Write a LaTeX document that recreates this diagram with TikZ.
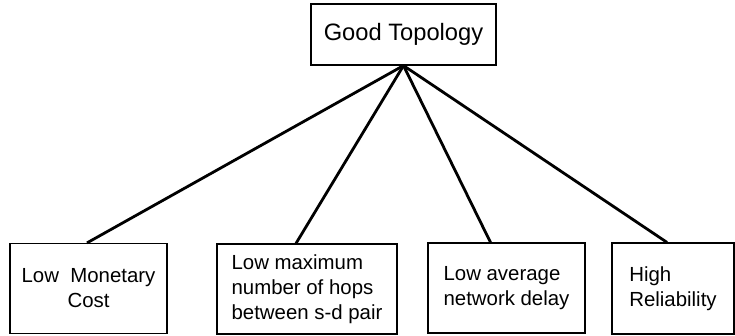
\documentclass[tikz,border=0pt]{standalone}
\usepackage{fontspec}
\setmainfont{Liberation Sans}
\usepackage{xcolor}
\usepackage{tikz}

\begin{document}
\begin{tikzpicture}[x = 1pt, y = -1pt]
            \tikzstyle{goal} = [draw=black, line width = 1.2pt, rectangle, inner sep = 0pt, font = \fontsize{23.7}{28}\selectfont];
            \tikzstyle{crit} = [draw=black, line width = 1.2pt, rectangle, inner sep = 0pt, minimum height = 90pt, font = \fontsize{20.4}{25}\selectfont];
            \tikzstyle{link} = [line width = 2.8pt];
            \useasboundingbox (0, 0) rectangle (735, 336);

            \node [goal, minimum width = 185pt, minimum height = 61pt] (G) at (403.5, 34.5) {Good Topology};

            \node [crit, minimum width = 157pt, align = center] (C1) at (88.5, 288.5) {Low~~Monetary\\Cost};
            \node [crit, minimum width = 180pt, align = left] (C2) at (307, 289) {Low maximum\\number of hops\\between s-d pair};
            \node [crit, minimum width = 157pt, align = left] (C3) at (506.5, 288) {Low average\\network delay};
            \node [crit, minimum width = 122pt, minimum height = 91pt, align = left] (C4) at (673, 288.5) {High\\Reliability};


            \draw [link] (G.south) to ([xshift = -1.5pt]C1.north);
            \draw [link] (G.south) to ([xshift = -11pt]C2.north);
            \draw [link] (G.south) to ([xshift = -16pt]C3.north);
            \draw [link] (G.south) to ([xshift = -6pt]C4.north);
        \end{tikzpicture}
\end{document}
